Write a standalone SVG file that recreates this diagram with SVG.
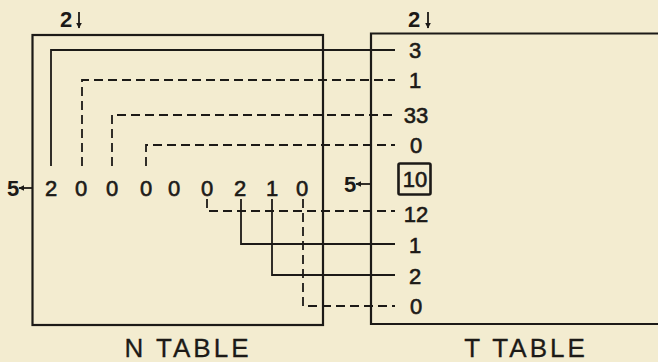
<svg xmlns="http://www.w3.org/2000/svg" width="658" height="362" viewBox="0 0 658 362">
  <defs>
    <marker id="head" viewBox="0 0 10 10" refX="9" refY="5" markerWidth="6" markerHeight="6" orient="auto" markerUnits="userSpaceOnUse">
      <path d="M0,0 L10,5 L0,10 Z" fill="#1c1a17"/>
    </marker>
    <style>
      .frame { fill: none; stroke: #1c1a17; stroke-width: 2.2; }
      .solid { fill: none; stroke: #1c1a17; stroke-width: 1.8; }
      .dash  { fill: none; stroke: #1c1a17; stroke-width: 1.8; stroke-dasharray: 9 5; }
      .ptr   { fill: none; stroke: #1c1a17; stroke-width: 1.8; marker-end: url(#head); }
      .dig   { font-family: "Liberation Sans", Arial, sans-serif; font-size: 22px; fill: #1c1a17; stroke: #1c1a17; stroke-width: 0.6; text-anchor: middle; }
      .key   { font-family: "Liberation Sans", Arial, sans-serif; font-size: 22px; font-weight: bold; fill: #1c1a17; text-anchor: middle; }
      .title { font-family: "Liberation Sans", Arial, sans-serif; font-size: 26px; letter-spacing: 3px; fill: #1c1a17; stroke: #1c1a17; stroke-width: 0.3; text-anchor: middle; }
    </style>
  </defs>

  <rect x="0" y="0" width="658" height="362" fill="#f3ecd0"/>

  <!-- N table: frame, pointers and digit row -->
  <g id="n-table">
    <rect class="frame" x="32.5" y="35" width="290.5" height="290"/>
    <text class="key" x="66" y="27">2</text>
    <line class="ptr" x1="79" y1="12" x2="79" y2="28"/>
    <text class="key" x="13" y="196">5</text>
    <line class="ptr" x1="32" y1="188" x2="19" y2="188"/>
    <g class="dig">
      <text x="51" y="196">2</text>
      <text x="81" y="196">0</text>
      <text x="112" y="196">0</text>
      <text x="146" y="196">0</text>
      <text x="174" y="196">0</text>
      <text x="207" y="196">0</text>
      <text x="240" y="196">2</text>
      <text x="272" y="196">1</text>
      <text x="302" y="196">0</text>
    </g>
    <text class="title" x="188" y="357">N TABLE</text>
  </g>

  <!-- T table: open-ended frame, pointers and entries -->
  <g id="t-table">
    <path class="frame" d="M658,33.5 H371 V324 H658"/>
    <text class="key" x="414" y="27">2</text>
    <line class="ptr" x1="428" y1="12" x2="428" y2="28"/>
    <text class="key" x="350" y="192">5</text>
    <line class="ptr" x1="371" y1="184" x2="356" y2="184"/>
    <g class="dig">
      <text x="415" y="58">3</text>
      <text x="415" y="88">1</text>
      <text x="416" y="123">33</text>
      <text x="416" y="153">0</text>
      <text x="415" y="187">10</text>
      <text x="416" y="222">12</text>
      <text x="415" y="253">1</text>
      <text x="415" y="284">2</text>
      <text x="416" y="314">0</text>
    </g>
    <rect x="398.5" y="163.5" width="32" height="31" rx="1.5" fill="none" stroke="#1c1a17" stroke-width="2.6"/>
    <text class="title" x="526" y="357">T TABLE</text>
  </g>

  <!-- connectors from N digits to T entries -->
  <g id="connectors">
    <path class="solid" d="M51,166 V50 H395"/>
    <path class="dash" d="M82,166 V80 H395"/>
    <path class="dash" d="M112,166 V115 H395"/>
    <path class="dash" d="M146,166 V145 H395"/>
    <path class="dash" d="M207,199 V211 H395"/>
    <path class="solid" d="M241,199 V244 H395"/>
    <path class="solid" d="M272,199 V275 H395"/>
    <path class="dash" d="M303,199 V306 H395"/>
  </g>
</svg>
